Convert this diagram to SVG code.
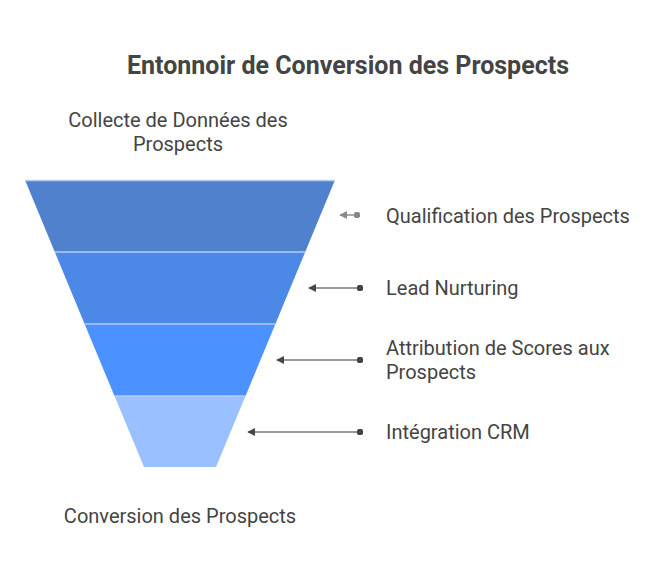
<svg xmlns="http://www.w3.org/2000/svg" width="660" height="576" viewBox="0 0 660 576">
<style>
text{font-family:Roboto,"Liberation Sans",sans-serif;fill:#444444}
.t{font-size:25px;font-weight:bold;text-anchor:middle}
.l{font-size:20px}
.c{font-size:20px;text-anchor:middle}
.sep{stroke:#b4cdf5;stroke-width:1.5}
.ln{stroke:#999999;stroke-width:2;fill:none}
</style>
<defs>
<marker id="ah" viewBox="0 0 10 10" refX="1" refY="5" markerWidth="4" markerHeight="4" orient="auto"><path d="M10,0 L0,5 L10,10 z" fill="#444"/></marker>
<marker id="dot" viewBox="0 0 10 10" refX="5" refY="5" markerWidth="3.2" markerHeight="3.2"><circle cx="5" cy="5" r="5" fill="#444"/></marker>
<marker id="ah2" viewBox="0 0 10 10" refX="1" refY="5" markerWidth="4" markerHeight="4" orient="auto"><path d="M10,0 L0,5 L10,10 z" fill="#888"/></marker>
<marker id="dot2" viewBox="0 0 10 10" refX="5" refY="5" markerWidth="3.2" markerHeight="3.2"><circle cx="5" cy="5" r="5" fill="#888"/></marker>
</defs>
<text class="t" x="348" y="74">Entonnoir de Conversion des Prospects</text>
<g id="top-label"><text class="c" x="178" y="127">Collecte de Données des</text><text class="c" x="178" y="151">Prospects</text></g>
<g id="bottom-label"><text class="c" x="180" y="523">Conversion des Prospects</text></g>
<g id="stage1"><polygon points="25,180 335,180 305.2,252 54.8,252" fill="#5081CC"/><text class="l" x="386" y="223">Qualification des Prospects</text></g>
<g id="stage2"><polygon points="54.8,252 305.2,252 275.4,324 84.6,324" fill="#4C89E6"/><text class="l" x="386" y="295">Lead Nurturing</text></g>
<g id="stage3"><polygon points="84.6,324 275.4,324 245.5,396 114.5,396" fill="#4B91FF"/><text class="l" x="386" y="355">Attribution de Scores aux</text><text class="l" x="386" y="379">Prospects</text></g>
<g id="stage4"><polygon points="114.5,396 245.5,396 216,467 144,467" fill="#9AC0FF"/><text class="l" x="386" y="439">Intégration CRM</text></g>
<g id="separators">
<line class="sep" x1="25" y1="180.5" x2="335" y2="180.5"/>
<line class="sep" x1="54.8" y1="252" x2="305.2" y2="252"/>
<line class="sep" x1="84.6" y1="324" x2="275.4" y2="324"/>
<line class="sep" x1="114.5" y1="396" x2="245.5" y2="396"/>
</g>
<g id="connectors">
<line class="ln" x1="340" y1="215" x2="357" y2="215" marker-start="url(#ah2)" marker-end="url(#dot2)" style="stroke:#aaaaaa"/>
<line class="ln" x1="309" y1="288" x2="360" y2="288" marker-start="url(#ah)" marker-end="url(#dot)"/>
<line class="ln" x1="277" y1="360" x2="360" y2="360" marker-start="url(#ah)" marker-end="url(#dot)"/>
<line class="ln" x1="248" y1="432" x2="360" y2="432" marker-start="url(#ah)" marker-end="url(#dot)"/>
</g>
</svg>
